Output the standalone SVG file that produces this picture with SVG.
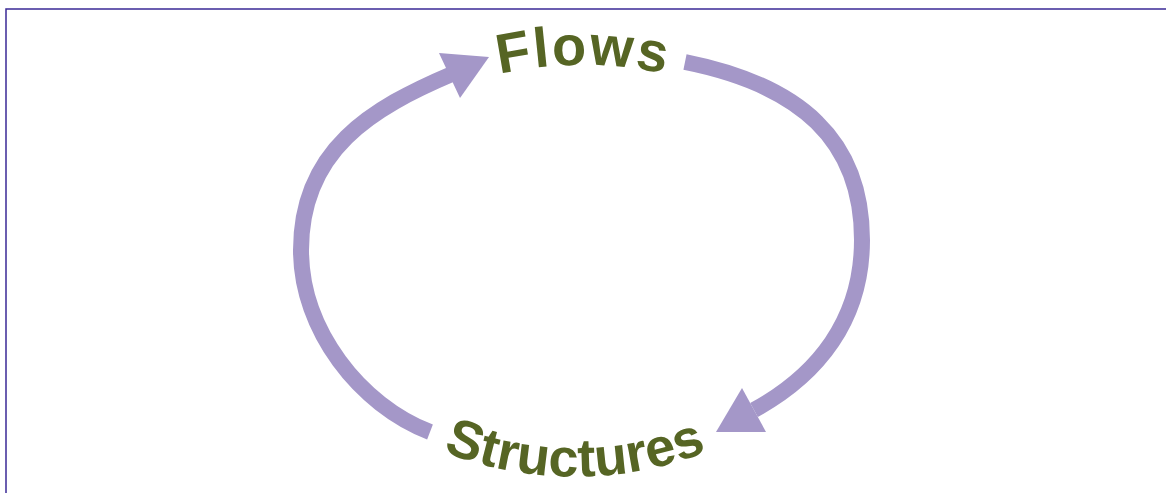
<svg xmlns="http://www.w3.org/2000/svg" width="1166" height="493" viewBox="0 0 1166 493">
  <style>
    .frame { fill: #ffffff; stroke: #3b2a96; stroke-width: 1.5; }
    .arc { fill: none; stroke: #a497c8; stroke-width: 16; stroke-linecap: butt; }
    .head { fill: #a497c8; }
    .label { font-family: "Liberation Sans", Arial, sans-serif; font-weight: bold; fill: #566524; }
  </style>
  <defs>
    <!-- baselines for the curved labels -->
    <path id="flowsBase" d="M 443 91 A 390 390 0 0 1 723 91"/>
    <path id="structBase" d="M 335 385 A 360 360 0 0 0 815 385"/>
  </defs>

  <rect class="frame" x="6" y="9" width="1200" height="600"/>

  <g id="connectors">
    <!-- left arc: Structures up to Flows -->
    <path class="arc" d="M 430 432 C 360 405 301 330 301 250 C 301 150 372 108 452 74"/>
    <polygon class="head" points="489,57 439,53 460,98"/>
    <!-- right arc: Flows down to Structures -->
    <path class="arc" d="M 685 62 C 800 85 862 140 862 240 C 862 320 818 375 754 410"/>
    <polygon class="head" points="716,432 742,388 766,432"/>
  </g>

  <g id="flows">
    <text class="label" font-size="56" letter-spacing="2" text-anchor="middle"><textPath href="#flowsBase" startOffset="50%">Flows</textPath></text>
  </g>

  <g id="structures">
    <text class="label" font-size="54" letter-spacing="0" text-anchor="middle"><textPath href="#structBase" startOffset="50%">Structures</textPath></text>
  </g>
</svg>
